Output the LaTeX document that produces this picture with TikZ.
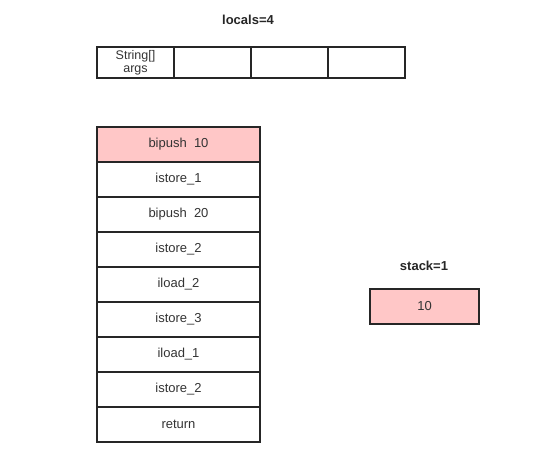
\documentclass[tikz,border=0pt]{standalone}
\usepackage{fontspec}
\setmainfont{Liberation Sans}
\begin{document}
\begin{tikzpicture}[x=1pt,y=-1pt,
  cell/.style={draw=black!85,line width=1.6pt,minimum width=#1,minimum height=35pt,inner sep=0pt,font=\fontsize{13}{14}\selectfont,text=black!80},
  cell/.default=163pt,
  hot/.style={fill=red!22},
  lbl/.style={font=\bfseries\fontsize{13}{14}\selectfont,text=black!85}]
\useasboundingbox (0,0) rectangle (536,458);
\node[lbl] (loc) at (248,20) {locals=4};
\node[cell=77pt,minimum height=31pt,align=center,font=\fontsize{12.5}{13}\selectfont] (l0) at (135.5,62.5) {String[]\\args};
\node[cell=77pt,minimum height=31pt] (l1) at (212.5,62.5) {};
\node[cell=77pt,minimum height=31pt] (l2) at (289.5,62.5) {};
\node[cell=77pt,minimum height=31pt] (l3) at (366.5,62.5) {};
\node[cell,hot] (c1) at (178.5,144.5) {bipush\ \ 10};
\node[cell] (c2) at (178.5,179.5) {istore\_1};
\node[cell] (c3) at (178.5,214.5) {bipush\ \ 20};
\node[cell] (c4) at (178.5,249.5) {istore\_2};
\node[cell] (c5) at (178.5,284.5) {iload\_2};
\node[cell] (c6) at (178.5,319.5) {istore\_3};
\node[cell] (c7) at (178.5,354.5) {iload\_1};
\node[cell] (c8) at (178.5,389.5) {istore\_2};
\node[cell] (c9) at (178.5,424.5) {return};
\node[lbl] (stk) at (424,266) {stack=1};
\node[cell=109pt,hot] (s1) at (424.5,306.5) {10};
\end{tikzpicture}
\end{document}
